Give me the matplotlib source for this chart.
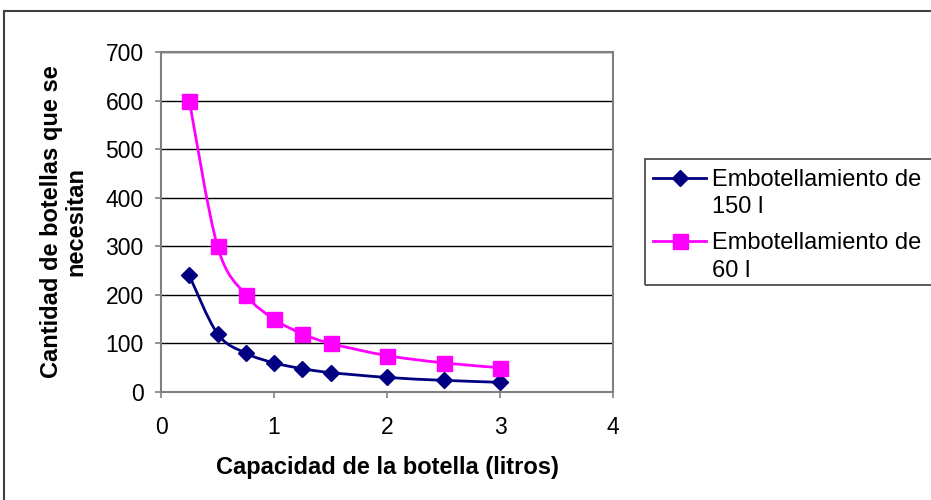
import matplotlib
matplotlib.use("Agg")
import matplotlib.pyplot as plt
import numpy as np
from matplotlib.path import Path
from matplotlib.patches import PathPatch, Rectangle
from matplotlib.lines import Line2D

plt.rcParams['font.family'] = ['Liberation Sans', 'DejaVu Sans']

capacidad = [0.25, 0.5, 0.75, 1.0, 1.25, 1.5, 2.0, 2.5, 3.0]
botellas_150 = [240, 120, 80, 60, 48, 40, 30, 24, 20]
botellas_60 = [600, 300, 200, 150, 120, 100, 75, 60, 50]
series_labels = [["Embotellamiento de", "150 l"], ["Embotellamiento de", "60 l"]]
x_ticks = [0, 1, 2, 3, 4]
y_ticks = [0, 100, 200, 300, 400, 500, 600, 700]

W, H, DPI = 931, 500, 100
FS = 17
fig = plt.figure(figsize=(W / DPI, H / DPI), dpi=DPI)


def fx(px):
    return px / W


def fy(py):
    # pixel row measured from the top edge -> figure fraction
    return 1 - py / H


# outer chart frame
fig.patches.append(Rectangle((fx(4), -0.1), 1.2, fy(11) + 0.1,
                             transform=fig.transFigure, fill=False,
                             edgecolor='#404040', linewidth=1.5, zorder=0))

ax = fig.add_axes([fx(161), fy(392), 452 / W, 340 / H])


def smooth_path(xs, ys):
    # Catmull-Rom style cubic Bezier segments through the points
    pts = np.column_stack([xs, ys]).astype(float)
    n = len(pts)
    verts = [pts[0]]
    codes = [Path.MOVETO]
    for i in range(n - 1):
        p0 = pts[i - 1] if i > 0 else pts[i]
        p1 = pts[i]
        p2 = pts[i + 1]
        p3 = pts[i + 2] if i + 2 < n else pts[i + 1]
        c1 = p1 + (p2 - p0) / 6.0
        c2 = p2 - (p3 - p1) / 6.0
        verts += [c1, c2, p2]
        codes += [Path.CURVE4] * 3
    return Path(verts, codes)


styles = [
    dict(color='#000080', marker='D', ms=8.5),
    dict(color='#FF00FF', marker='s', ms=10.8),
]
for ys, st in zip([botellas_150, botellas_60], styles):
    patch = PathPatch(smooth_path(capacidad, ys), fill=False,
                      edgecolor=st['color'], linewidth=2.0,
                      transform=ax.transData, zorder=3)
    ax.add_patch(patch)
    ax.plot(capacidad, ys, linestyle='none', marker=st['marker'],
            ms=st['ms'], color=st['color'], zorder=4, clip_on=False)

ax.set_xlim(0, 4)
ax.set_ylim(0, 700)
ax.set_xticks(x_ticks)
ax.set_yticks(y_ticks)
ax.yaxis.grid(True, color='black', linewidth=1.0)
ax.set_axisbelow(True)
for s in ax.spines.values():
    s.set_color('#808080')
    s.set_linewidth(1.5)
ax.tick_params(axis='both', colors='#808080', labelcolor='black',
               labelsize=16.5, length=4.5, width=1.2)
ax.tick_params(axis='x', pad=13)
ax.tick_params(axis='y', pad=8)

ax.set_xlabel("Capacidad de la botella (litros)", fontsize=FS,
              fontweight='bold')
ax.xaxis.set_label_coords(0.5, (392 - 456) / 340)
ax.set_ylabel("Cantidad de botellas que se\nnecesitan", fontsize=FS,
              fontweight='bold', linespacing=1.05)
ax.yaxis.set_label_coords((87 - 161) / 452, 0.5)

# legend box with the handle beside the first line of each entry
fig.patches.append(Rectangle((fx(645), fy(285)), 1.0, (285 - 159) / H,
                             transform=fig.transFigure, fill=False,
                             edgecolor='#404040', linewidth=1.2, zorder=5))
entry_baselines = [(186, 213), (249, 277)]
for st, lines, (b1, b2) in zip(styles, series_labels, entry_baselines):
    yh = fy(b1 - 8.5)
    fig.add_artist(Line2D([fx(653), fx(706)], [yh, yh],
                          transform=fig.transFigure, color=st['color'],
                          linewidth=2.0, zorder=6))
    fig.add_artist(Line2D([fx(679.5)], [yh], transform=fig.transFigure,
                          linestyle='none', marker=st['marker'],
                          ms=st['ms'], color=st['color'], zorder=7))
    fig.text(fx(712), fy(b1), lines[0], fontsize=FS, va='baseline',
             ha='left')
    fig.text(fx(712), fy(b2), lines[1], fontsize=FS, va='baseline',
             ha='left')

fig.savefig("out.png", dpi=DPI)
